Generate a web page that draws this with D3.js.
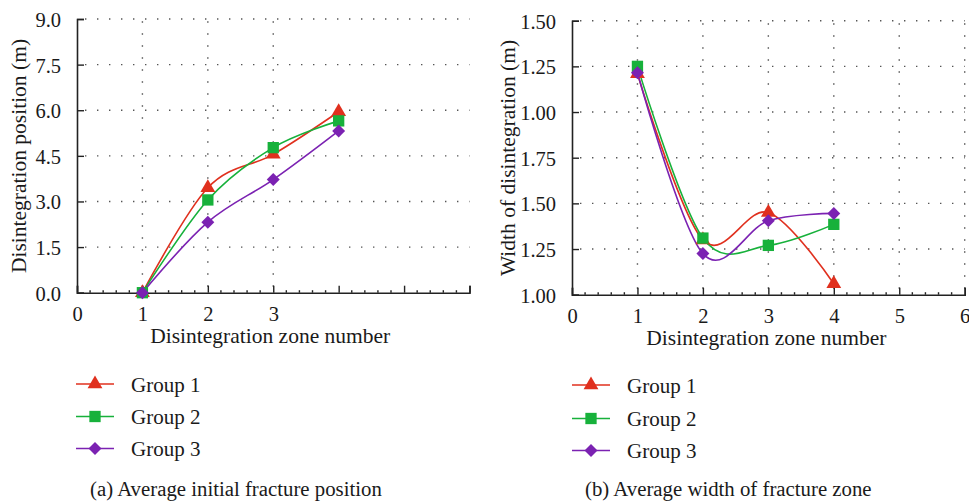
<!DOCTYPE html>
<html>
<head>
<meta charset="utf-8">
<script src="https://cdn.jsdelivr.net/npm/d3@7"></script>
<style>
  html, body { margin: 0; padding: 0; background: #fff; }
  svg text { font-family: "Liberation Serif", "Times New Roman", "DejaVu Serif", serif; fill: #1a1a1a; }
</style>
</head>
<body>
<svg id="chart" width="969" height="504"></svg>
<script>
// Disintegration zone numbers
const zones = [1, 2, 3, 4];
const groupNames = ["Group 1", "Group 2", "Group 3"];
const groupColors = ["#e0301e", "#17b13b", "#7b22b2"];
const groupSymbols = ["triangle", "square", "diamond"];

// (a) Average initial fracture position (m)
const positionG1 = [0, 3.45, 4.55, 5.95];
const positionG2 = [0, 3.05, 4.77, 5.65];
const positionG3 = [0, 2.32, 3.72, 5.32];

// (b) Average width of fracture zone (m)
const widthG1 = [1.21, 0.30, 0.45, 0.06];
const widthG2 = [1.25, 0.31, 0.27, 0.385];
const widthG3 = [1.215, 0.225, 0.405, 0.445];

// Tick labels
const xTicksA = ["0", "1", "2", "3"];
const yTicksA = ["0.0", "1.5", "3.0", "4.5", "6.0", "7.5", "9.0"];
const xTicksB = ["0", "1", "2", "3", "4", "5", "6"];
const yTicksB = ["1.00", "1.25", "1.50", "1.75", "1.00", "1.25", "1.50"];

const svg = d3.select("#chart");
const axisColor = "#222";

function markerPath(kind) {
  if (kind === "triangle") return d3.symbol(d3.symbolTriangle, 95)();
  if (kind === "square") return d3.symbol(d3.symbolSquare, 128)();
  return d3.symbol(d3.symbolSquare, 84)();
}
function markerRotate(kind) { return kind === "diamond" ? " rotate(45)" : ""; }

function panel(cfg) {
  const g = svg.append("g");
  const x = d3.scaleLinear().domain([0, 6]).range([cfg.x0, cfg.x1]);
  const y = d3.scaleLinear().domain(cfg.yDomain).range([cfg.y0, cfg.y1]);
  const yTickVals = d3.range(cfg.yTicks.length).map(i => cfg.yDomain[0] + i * cfg.yStep);

  // dotted grid
  const grid = g.append("g").attr("stroke", "#555").attr("stroke-width", 1.4)
    .attr("stroke-dasharray", "1.4,10.6");
  yTickVals.slice(1).forEach(v => {
    grid.append("line").attr("x1", cfg.x0 + 8).attr("x2", cfg.x1)
      .attr("y1", y(v)).attr("y2", y(v));
  });
  cfg.vGrid.forEach(v => {
    grid.append("line").attr("x1", x(v)).attr("x2", x(v))
      .attr("y1", cfg.y0 - 6).attr("y2", cfg.y1);
  });

  // axes
  const xAxis = d3.axisBottom(x).tickValues(d3.range(0, 7)).tickSize(-7)
    .tickFormat((d, i) => i < cfg.xTicks.length ? cfg.xTicks[i] : "").tickPadding(14);
  const xa = g.append("g").attr("transform", `translate(0,${cfg.y0})`).call(xAxis);
  const xMinor = d3.range(0, 6.001, 0.2).filter(v => Math.abs(v - Math.round(v)) > 1e-6);
  xa.selectAll(".minor").data(xMinor).enter().append("line")
    .attr("class", "minor").attr("x1", d => x(d)).attr("x2", d => x(d))
    .attr("y1", 0).attr("y2", -2.5);

  const yAxis = d3.axisLeft(y).tickValues(yTickVals).tickSize(-7)
    .tickFormat((d, i) => cfg.yTicks[i]).tickPadding(16);
  const ya = g.append("g").attr("transform", `translate(${cfg.x0},0)`).call(yAxis);

  [xa, ya].forEach(a => {
    a.select(".domain").attr("stroke", axisColor).attr("stroke-width", 1.6);
    a.selectAll("line").attr("stroke", axisColor).attr("stroke-width", 1.4);
    a.selectAll("text").attr("font-size", 20.5).attr("fill", "#1a1a1a");
  });
  ya.selectAll("text").attr("dy", "0.36em");

  // axis titles
  g.append("text").attr("x", (cfg.x0 + cfg.x1) / 2 + cfg.xTitleShift).attr("y", cfg.y0 + 50)
    .attr("text-anchor", "middle").attr("font-size", 21.5).text("Disintegration zone number");
  g.append("text").attr("transform", `translate(${cfg.yTitleX},${cfg.yTitleY}) rotate(-90)`)
    .attr("text-anchor", "middle").attr("font-size", 21.5).text(cfg.yTitle);

  // series: smooth Catmull-Rom style curves through the measured points
  const line = d3.line().curve(d3.curveCardinal.tension(0))
    .x((d, i) => x(zones[i])).y(d => y(d));
  cfg.series.forEach((s, k) => {
    g.append("path").attr("d", line(s)).attr("fill", "none")
      .attr("stroke", groupColors[k]).attr("stroke-width", 1.6);
  });
  cfg.series.forEach((s, k) => {
    g.selectAll(null).data(s).enter().append("path")
      .attr("d", markerPath(groupSymbols[k]))
      .attr("transform", (d, i) => `translate(${x(zones[i])},${y(d)})` + markerRotate(groupSymbols[k]))
      .attr("fill", groupColors[k]);
  });

  // legend
  groupNames.forEach((name, k) => {
    const ly = cfg.legendY[k];
    g.append("line").attr("x1", cfg.legendX).attr("x2", cfg.legendX + 38)
      .attr("y1", ly).attr("y2", ly).attr("stroke", groupColors[k]).attr("stroke-width", 1.6);
    g.append("path").attr("d", markerPath(groupSymbols[k]))
      .attr("transform", `translate(${cfg.legendX + 19},${ly})` + markerRotate(groupSymbols[k]))
      .attr("fill", groupColors[k]);
    g.append("text").attr("x", cfg.legendX + 55).attr("y", ly + 7.5)
      .attr("font-size", 21).text(name);
  });

  // caption
  g.append("text").attr("x", cfg.captionX).attr("y", 496).attr("font-size", 20.8).text(cfg.caption);
}

panel({
  x0: 77, x1: 469.5, y0: 292.7, y1: 19,
  yDomain: [0, 9], yStep: 1.5, yTicks: yTicksA, xTicks: xTicksA,
  vGrid: [1, 2, 3],
  yTitle: "Disintegration position (m)", yTitleX: 26, yTitleY: 156, xTitleShift: -3,
  series: [positionG1, positionG2, positionG3],
  legendX: 76, legendY: [384, 416.5, 448.5],
  caption: "(a) Average initial fracture position", captionX: 90
});

panel({
  x0: 572, x1: 964.7, y0: 294.7, y1: 20.7,
  yDomain: [0, 1.5], yStep: 0.25, yTicks: yTicksB, xTicks: xTicksB,
  vGrid: [1, 2, 3, 4, 5, 6],
  yTitle: "Width of disintegration (m)", yTitleX: 515, yTitleY: 158, xTitleShift: -2,
  series: [widthG1, widthG2, widthG3],
  legendX: 572, legendY: [385, 418.5, 450.5],
  caption: "(b) Average width of fracture zone", captionX: 585
});
</script>
</body>
</html>
